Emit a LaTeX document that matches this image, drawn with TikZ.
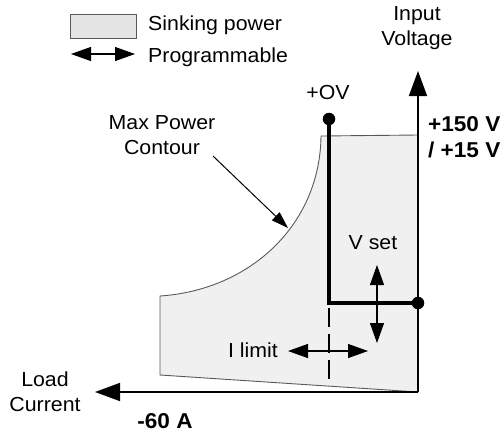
\documentclass[tikz,border=0pt]{standalone}
\usepackage{fontspec}
\setmainfont{Liberation Sans}[FakeStretch=1.05]
\usetikzlibrary{arrows.meta}
\begin{document}
\begin{tikzpicture}[x=1pt, y=-1pt,
    font=\fontsize{20.3}{25}\selectfont,
    axis/.style={line width=1.6pt, -{Triangle[length=25pt,width=18pt]}},
    prog/.style={line width=1.1pt, {Triangle[length=20pt,width=14pt]}-{Triangle[length=20pt,width=14pt]}},
    sink/.style={fill=gray!12, draw=gray!70!black, line width=0.9pt},
    dot/.style={circle, fill, inner sep=0pt, minimum size=12.5pt},
    lbl/.style={align=center, inner sep=0pt},
    vallbl/.style={lbl, font=\fontsize{21.5}{26}\selectfont\bfseries}]
    \useasboundingbox (0,0) rectangle (504,432);
    % sinking region
    \draw[sink] (160,296) .. controls (250,290) and (320,225) .. (321,136)
        -- (418,135) -- (418,392) -- (160,375) -- cycle;
    % axes
    \coordinate (O) at (418,392);
    \coordinate (vtip) at (418,71);
    \coordinate (itip) at (95,392);
    \draw[axis] (O) -- (vtip);
    \draw[axis] (O) -- (itip);
    \node[lbl] (vlbl) at (417,28) {Input\\Voltage};
    \node[lbl] (ilbl) at (45,392) {Load\\Current};
    \node[vallbl, align=left, anchor=west] (vmax) at (428,137) {+150 V\\/ +15 V};
    \node[vallbl] (imax) at (165,421) {-60 A};
    % legend
    \node[sink, fill=gray!20, minimum width=66pt, minimum height=24pt, inner sep=0pt] (legbox) at (103,26) {};
    \node[anchor=west, inner sep=0pt] (sinklbl) at (148,25) {Sinking power};
    \coordinate (la) at (71,54);
    \coordinate (lb) at (135,54);
    \draw[prog] (la) -- (lb);
    \node[anchor=west, inner sep=0pt] (proglbl) at (148,57) {Programmable};
    % max power contour
    \node[lbl] (mplbl) at (162,135) {Max Power\\Contour};
    \coordinate (mp) at (213,156);
    \coordinate (mptip) at (288,228);
    \draw[line width=1pt, -{Triangle[length=17pt,width=11pt]}] (mp) -- (mptip);
    % programmed output
    \node[dot] (ov) at (329,119) {};
    \node[dot] (vs) at (418,303) {};
    \coordinate (knee) at (329,303);
    \draw[line width=3.5pt] (ov.center) -- (knee) -- (vs.center);
    \node[lbl] (ovlbl) at (328,93) {+OV};
    \coordinate (d1) at (329,308);
    \coordinate (d2) at (329,380);
    \draw[line width=1.5pt, dash pattern=on 19pt off 7pt] (d1) -- (d2);
    % set arrows
    \node[lbl] (vsetlbl) at (373,243) {V set};
    \coordinate (va) at (377,265);
    \coordinate (vb) at (377,343);
    \draw[prog] (va) -- (vb);
    \node[lbl] (ilimlbl) at (253,350) {I limit};
    \coordinate (ia) at (288,351);
    \coordinate (ib) at (368,351);
    \draw[prog] (ia) -- (ib);
\end{tikzpicture}
\end{document}
